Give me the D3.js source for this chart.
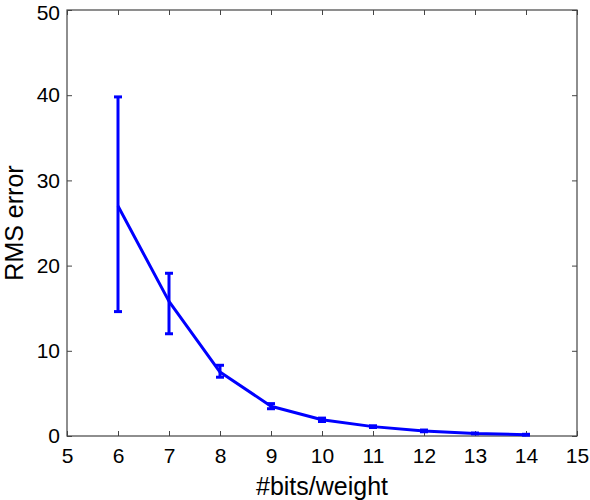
<!DOCTYPE html>
<html>
<head>
<meta charset="utf-8">
<script src="https://cdn.jsdelivr.net/npm/d3@7"></script>
<style>
  body { margin: 0; background: #fff; }
  text { font-family: "Liberation Sans", Arial, sans-serif; }
</style>
</head>
<body>
<div id="chart"></div>
<script>
'use strict';

// values
var bits = [6, 7, 8, 9, 10, 11, 12, 13, 14];
var rms = [27.0, 15.8, 7.5, 3.5, 1.9, 1.1, 0.6, 0.3, 0.15];
var errLow = [14.6, 12.0, 6.9, 3.2, 1.7, 1.0, 0.5, 0.25, 0.1];
var errHigh = [39.8, 19.1, 8.3, 3.8, 2.1, 1.2, 0.7, 0.35, 0.2];
var xTicks = [5, 6, 7, 8, 9, 10, 11, 12, 13, 14, 15];
var yTicks = [0, 10, 20, 30, 40, 50];

var width = 590, height = 500;
var margin = {top: 10, right: 13, bottom: 64, left: 67};
var blue = '#0000ff';
var axisColor = '#444';

var svg = d3.select('#chart').append('svg')
  .attr('width', width)
  .attr('height', height);

var x = d3.scaleLinear().domain([5, 15]).range([margin.left, width - margin.right]);
var y = d3.scaleLinear().domain([0, 50]).range([height - margin.bottom, margin.top]);

var points = bits.map(function(b, i) {
  return {x: b, y: rms[i], lo: errLow[i], hi: errHigh[i]};
});

// axes: ticks point inward, mirrored on top and right
function styleAxis(g) {
  g.select('.domain').remove();
  g.selectAll('line').attr('stroke', axisColor).attr('stroke-width', 1);
  g.selectAll('text').attr('fill', '#000').style('font-size', '21px');
}

svg.append('g')
  .attr('transform', `translate(0,${y(0)})`)
  .call(d3.axisBottom(x).tickValues(xTicks).tickSizeInner(-5).tickSizeOuter(0).tickPadding(12))
  .call(styleAxis);

svg.append('g')
  .attr('transform', `translate(0,${y(50)})`)
  .call(d3.axisTop(x).tickValues(xTicks).tickSizeInner(-5).tickSizeOuter(0).tickFormat(''))
  .call(styleAxis);

svg.append('g')
  .attr('transform', `translate(${x(5)},0)`)
  .call(d3.axisLeft(y).tickValues(yTicks).tickSizeInner(-5).tickSizeOuter(0).tickPadding(7))
  .call(styleAxis)
  // top label would poke above the frame, nudge it down a little
  .selectAll('.tick text')
  .filter(function(d) { return d === 50; })
  .attr('dy', '0.45em');

svg.append('g')
  .attr('transform', `translate(${x(15)},0)`)
  .call(d3.axisRight(y).tickValues(yTicks).tickSizeInner(-5).tickSizeOuter(0).tickFormat(''))
  .call(styleAxis);

// box
svg.append('rect')
  .attr('x', x(5))
  .attr('y', y(50))
  .attr('width', x(15) - x(5))
  .attr('height', y(0) - y(50))
  .attr('fill', 'none')
  .attr('stroke', axisColor)
  .attr('stroke-width', 1.2);

// error bars
var bars = svg.append('g').attr('stroke', blue).attr('stroke-width', 3);
bars.selectAll('line.v')
  .data(points)
  .join('line')
  .attr('class', 'v')
  .attr('x1', function(d) { return x(d.x); })
  .attr('x2', function(d) { return x(d.x); })
  .attr('y1', function(d) { return y(d.lo); })
  .attr('y2', function(d) { return y(d.hi); });

['lo', 'hi'].forEach(function(k) {
  bars.selectAll('line.cap-' + k)
    .data(points)
    .join('line')
    .attr('class', 'cap-' + k)
    .attr('x1', function(d) { return x(d.x) - 4; })
    .attr('x2', function(d) { return x(d.x) + 4; })
    .attr('y1', function(d) { return y(d[k]); })
    .attr('y2', function(d) { return y(d[k]); });
});

// mean line
var line = d3.line()
  .x(function(d) { return x(d.x); })
  .y(function(d) { return y(d.y); });

svg.append('path')
  .datum(points)
  .attr('d', line)
  .attr('fill', 'none')
  .attr('stroke', blue)
  .attr('stroke-width', 3)
  .attr('stroke-linejoin', 'round');

// axis titles
svg.append('text')
  .attr('x', (x(5) + x(15)) / 2)
  .attr('y', 495)
  .attr('text-anchor', 'middle')
  .style('font-size', '25px')
  .text('#bits/weight');

svg.append('text')
  .attr('transform', `translate(23,${(y(0) + y(50)) / 2}) rotate(-90)`)
  .attr('text-anchor', 'middle')
  .style('font-size', '25px')
  .text('RMS error');
</script>
</body>
</html>
